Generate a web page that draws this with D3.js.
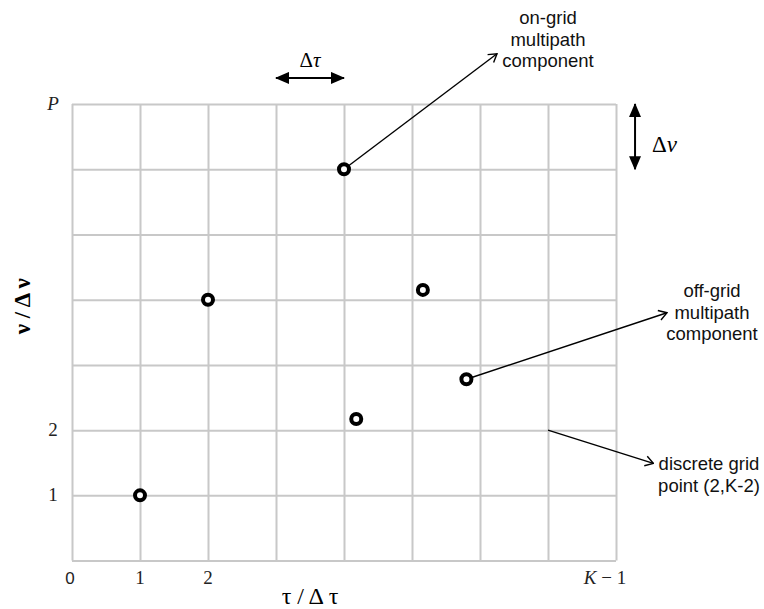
<!DOCTYPE html>
<html>
<head>
<meta charset="utf-8">
<script src="https://cdn.jsdelivr.net/npm/d3@7"></script>
<style>
  body { margin: 0; background: #fff; }
  svg { display: block; }
</style>
</head>
<body>
<svg></svg>
<script>
// grid size (cells along tau and nu)
const tauCells = 8
const nuCells = 7

// tick labels
const xTickValues = [0, 1, 2, 8]
const xTickLabels = ['0', '1', '2', 'K − 1']
const yTickValues = [1, 2, 7]
const yTickLabels = ['1', '2', 'P']

// multipath components (tau/dtau, nu/dnu)
const pointsTau = [1, 2, 4, 4.18, 5.16, 5.80]
const pointsNu = [1, 4, 6, 2.17, 4.15, 2.78]

// annotations: start point, arrow tip and text lines (data units)
const annFrom = [[4, 6], [5.80, 2.78], [7, 2]]
const annTo = [[6.25, 7.77], [8.75, 3.8], [8.55, 1.49]]
const annText = [
  ['on-grid', 'multipath', 'component'],
  ['off-grid', 'multipath', 'component'],
  ['discrete grid', 'point (2,K-2)']
]

const w = 764
const h = 609

let svg = d3.select('svg').attr('width', w).attr('height', h)

let xScale = d3.scaleLinear().domain([0, tauCells]).range([72, 616])
let yScale = d3.scaleLinear().domain([0, nuCells]).range([560.6, 104])

let defs = svg.append('defs')
defs.append('marker')
  .attr('id', 'solid')
  .attr('viewBox', '0 0 14 12')
  .attr('refX', 13).attr('refY', 6)
  .attr('markerWidth', 14).attr('markerHeight', 12)
  .attr('markerUnits', 'userSpaceOnUse')
  .attr('orient', 'auto-start-reverse')
  .append('path').attr('d', 'M0,0 L14,6 L0,12 Z').attr('fill', '#000')
defs.append('marker')
  .attr('id', 'open')
  .attr('viewBox', '0 0 10 12')
  .attr('refX', 9).attr('refY', 6)
  .attr('markerWidth', 10).attr('markerHeight', 12)
  .attr('markerUnits', 'userSpaceOnUse')
  .attr('orient', 'auto')
  .append('path').attr('d', 'M1,1 L9,6 L1,11')
  .attr('fill', 'none').attr('stroke', '#000').attr('stroke-width', 1.4)

// grid via axes
let gridX = d3.axisBottom(xScale).ticks(tauCells).tickSize(-(yScale(0) - yScale(nuCells))).tickFormat('')
let gridY = d3.axisLeft(yScale).ticks(nuCells).tickSize(-(xScale(tauCells) - xScale(0))).tickFormat('')

svg.append('g')
  .attr('transform', 'translate(0,' + yScale(0) + ')')
  .call(gridX)
  .call(g => g.select('.domain').remove())
  .call(g => g.selectAll('line').attr('stroke', '#c8c8c8').attr('stroke-width', 2))
svg.append('g')
  .attr('transform', 'translate(' + xScale(0) + ',0)')
  .call(gridY)
  .call(g => g.select('.domain').remove())
  .call(g => g.selectAll('line').attr('stroke', '#c8c8c8').attr('stroke-width', 2))

// tick labels
svg.append('g').selectAll('text')
  .data(xTickValues)
  .enter()
  .append('text')
  .attr('x', (d, i) => xScale(d) + (i === 0 ? -2 : i === 3 ? -11 : 0))
  .attr('y', 584)
  .attr('text-anchor', 'middle')
  .attr('font-family', (d, i) => i === 0 ? 'Liberation Sans, Arial, sans-serif' : 'Liberation Serif, serif')
  .attr('font-size', (d, i) => i === 0 ? 17 : 19)
  .attr('fill', '#222')
  .each(function (d, i) {
    let t = d3.select(this)
    if (xTickLabels[i].startsWith('K')) {
      t.append('tspan').attr('font-style', 'italic').text('K')
      t.append('tspan').text(' − 1')
    } else {
      t.text(xTickLabels[i])
    }
  })

svg.append('g').selectAll('text')
  .data(yTickValues)
  .enter()
  .append('text')
  .attr('x', 53)
  .attr('y', d => yScale(d) + 6)
  .attr('text-anchor', 'middle')
  .attr('font-family', 'Liberation Serif, serif')
  .attr('font-size', 19)
  .attr('font-style', (d, i) => yTickLabels[i] === 'P' ? 'italic' : 'normal')
  .attr('fill', '#222')
  .text((d, i) => yTickLabels[i])

// axis titles
svg.append('text')
  .attr('x', 310).attr('y', 604)
  .attr('text-anchor', 'middle')
  .attr('font-family', 'Liberation Serif, serif')
  .attr('font-size', 24)
  .text('τ / Δ τ')
svg.append('text')
  .attr('transform', 'translate(30,' + yScale(3.9) + ') rotate(-90)')
  .attr('text-anchor', 'middle')
  .attr('font-family', 'Liberation Serif, serif')
  .attr('font-size', 23)
  .attr('font-weight', 'bold')
  .text('ν / Δ ν')

// delta arrows
svg.append('line')
  .attr('x1', xScale(3)).attr('x2', xScale(4))
  .attr('y1', yScale(7.4)).attr('y2', yScale(7.4))
  .attr('stroke', '#000').attr('stroke-width', 2)
  .attr('marker-start', 'url(#solid)').attr('marker-end', 'url(#solid)')
svg.append('text')
  .attr('x', xScale(3.5)).attr('y', 67)
  .attr('text-anchor', 'middle')
  .attr('font-family', 'Liberation Serif, serif')
  .attr('font-size', 21)
  .html('Δ<tspan font-style="italic">τ</tspan>')

svg.append('line')
  .attr('x1', xScale(8.28)).attr('x2', xScale(8.28))
  .attr('y1', yScale(7)).attr('y2', yScale(6))
  .attr('stroke', '#000').attr('stroke-width', 2)
  .attr('marker-start', 'url(#solid)').attr('marker-end', 'url(#solid)')
svg.append('text')
  .attr('x', 652).attr('y', 152)
  .attr('font-family', 'Liberation Serif, serif')
  .attr('font-size', 23)
  .html('Δ<tspan font-style="italic">ν</tspan>')

// annotation arrows
svg.append('g').selectAll('line')
  .data(annFrom)
  .enter()
  .append('line')
  .attr('x1', d => xScale(d[0]))
  .attr('y1', d => yScale(d[1]))
  .attr('x2', (d, i) => xScale(annTo[i][0]))
  .attr('y2', (d, i) => yScale(annTo[i][1]))
  .attr('stroke', '#000')
  .attr('stroke-width', 1.4)
  .attr('marker-end', 'url(#open)')

// annotation texts
const annTextPos = [[548, 24], [712, 297], [709, 470]]
annText.forEach((lines, i) => {
  let t = svg.append('text')
    .attr('text-anchor', 'middle')
    .attr('font-family', 'Liberation Sans, Arial, sans-serif')
    .attr('font-size', 18.5)
    .attr('fill', '#111')
  lines.forEach((s, j) => {
    t.append('tspan')
      .attr('x', annTextPos[i][0])
      .attr('y', annTextPos[i][1] + j * 21.5)
      .text(s)
  })
})

// points
svg.append('g').selectAll('circle')
  .data(pointsTau)
  .enter()
  .append('circle')
  .attr('cx', d => xScale(d))
  .attr('cy', (d, i) => yScale(pointsNu[i]))
  .attr('r', 5)
  .attr('fill', '#fff')
  .attr('stroke', '#000')
  .attr('stroke-width', 4)
</script>
</body>
</html>
